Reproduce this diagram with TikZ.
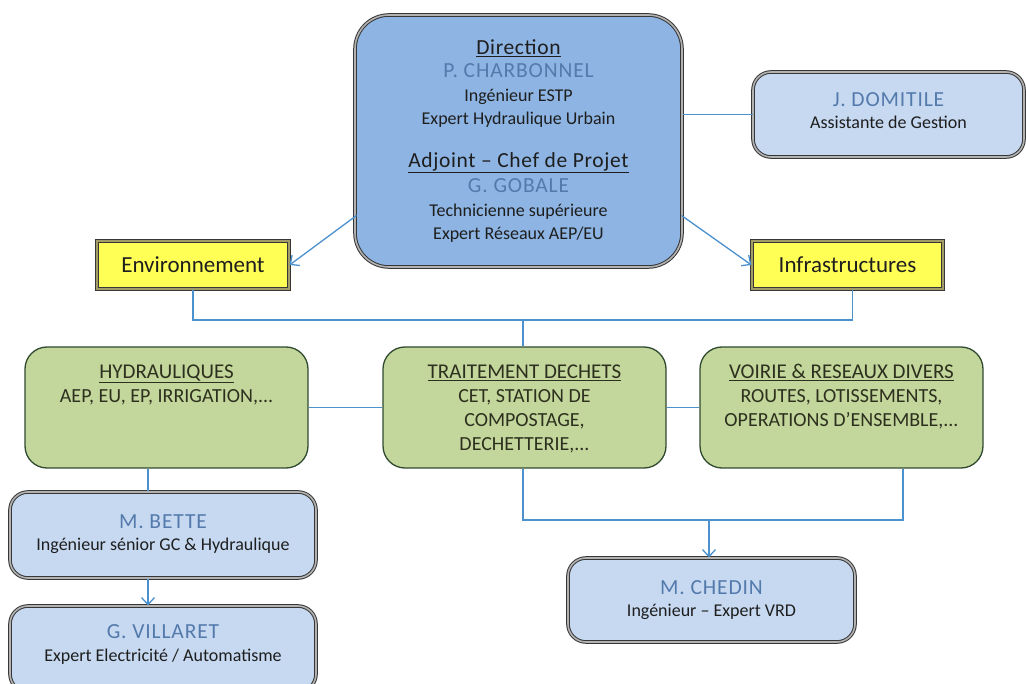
\documentclass[tikz,border=0pt]{standalone}
\usepackage{fontspec}
\setmainfont{Carlito}
\usetikzlibrary{arrows.meta,calc}
\definecolor{dirblue}{RGB}{141,180,226}
\definecolor{lblue}{RGB}{198,217,241}
\definecolor{lgreen}{RGB}{195,214,155}
\definecolor{yel}{RGB}{255,255,85}
\definecolor{conn}{RGB}{75,145,205}
\definecolor{namec}{RGB}{84,122,172}
\definecolor{bord}{RGB}{55,55,55}
\definecolor{txt}{RGB}{30,30,30}
\definecolor{gtxt}{RGB}{45,48,30}
\newcommand\fsBody{\fontsize{18}{23}\selectfont}
\newcommand\fsName{\fontsize{21.5}{23}\selectfont}
\newcommand\fsTitle{\fontsize{21.5}{23}\selectfont}
\newcommand\fsGreen{\fontsize{20}{24}\selectfont}
\newcommand\nm[1]{{\fsName\addfontfeatures{LetterSpace=4}\color{namec}#1}}
\tikzset{
  dirbox/.style={draw=bord, double=gray!60, double distance=1.6pt, line width=1pt,
    fill=dirblue, rounded corners=34pt, minimum width=327pt, minimum height=252pt,
    inner sep=0pt, align=center, text=txt, font=\fsBody},
  pbox/.style={draw=bord, double=gray!60, double distance=1.6pt, line width=1pt,
    fill=lblue, rounded corners=18pt, inner sep=0pt, align=center, text=txt, font=\fsBody},
  ybox/.style={draw=bord, double=gray!55!yellow!80!black, double distance=2.4pt, line width=1.1pt,
    fill=yel, minimum width=192pt, minimum height=48pt, inner sep=0pt, text=txt,
    font=\fontsize{23}{26}\selectfont},
  gbox/.style={draw=bord!90!green, line width=1.3pt, fill=lgreen, rounded corners=22pt,
    minimum width=283pt, minimum height=121pt, inner sep=0pt},
  gtext/.style={anchor=north, align=center, inner sep=0pt, text=gtxt, font=\fsGreen},
  conline/.style={draw=conn, line width=1.3pt},
  conarrow/.style={conline, -{Straight Barb[length=7pt,width=13pt,line width=1.3pt]}}
}
\begin{document}
\begin{tikzpicture}[x=1pt,y=-1pt]
\useasboundingbox[fill=white] (0,0) rectangle (1026,684);

\node[dirbox] (dir) at (518.5,141) {{\fsTitle\addfontfeatures{LetterSpace=3}\underline{Direction}}\\
  \nm{P. CHARBONNEL}\\[1pt]
  Ingénieur ESTP\\
  Expert Hydraulique Urbain\\[20pt]
  {\fsTitle\addfontfeatures{LetterSpace=3}\underline{Adjoint – Chef de Projet}}\\[2pt]
  \nm{G. GOBALE}\\[1pt]
  Technicienne supérieure\\
  Expert Réseaux AEP/EU};

\node[pbox, minimum width=271pt, minimum height=85pt] (dom) at (888.5,114.5)
  {\nm{J. DOMITILE}\\[-1pt] Assistante de Gestion\\[-15pt]\mbox{}};

\node[ybox] (env) at (193,265) {Environnement};
\node[ybox, minimum width=191pt] (inf) at (847.5,265) {Infrastructures};

\node[gbox] (hyd) at (166.5,407.5) {};
\node[gbox] (tra) at (524.5,407.5) {};
\node[gbox] (voi) at (841.5,407.5) {};

\node[gtext] (hydt) at ([yshift=-18pt]hyd.north)
  {{\fontsize{21}{24}\selectfont\underline{HYDRAULIQUES}}\\AEP, EU, EP, IRRIGATION,...};
\node[gtext] (trat) at ([yshift=-18pt]tra.north)
  {{\fontsize{21}{24}\selectfont\underline{TRAITEMENT DECHETS}}\\CET, STATION DE\\COMPOSTAGE,\\DECHETTERIE,...};
\node[gtext] (voit) at ([yshift=-18pt]voi.north)
  {{\fontsize{21}{24}\selectfont\underline{VOIRIE \& RESEAUX DIVERS}}\\ROUTES, LOTISSEMENTS,\\OPERATIONS D’ENSEMBLE,...};

\node[pbox, minimum width=306pt, minimum height=86pt] (bet) at (163,535)
  {\nm{M. BETTE}\\[-1pt] Ingénieur sénior GC \& Hydraulique\\[-19pt]\mbox{}};
\node[pbox, minimum width=306pt, minimum height=86pt] (vil) at (163,649)
  {\nm{G. VILLARET}\\[0pt] Expert Electricité / Automatisme\\[-12pt]\mbox{}};
\node[pbox, minimum width=287pt, minimum height=84pt] (che) at (711.5,600)
  {\nm{M. CHEDIN}\\[-1pt] Ingénieur – Expert VRD};

% connectors
\draw[conline] (dom.west) -- (dom.west -| dir.east);
\draw[conarrow] ($(dir.south west)+(2,-52)$) -- (env.east);
\draw[conarrow] ($(dir.south east)+(-1,-52)$) -- (inf.west);

\coordinate (bus1) at (523,320);
\draw[conline] (env.south) |- (bus1) -| ([xshift=5pt]inf.south);
\draw[conline] (bus1) -- (bus1 |- tra.north);

\draw[conline] (hyd.east) -- (tra.west);
\draw[conline] (tra.east) -- (voi.west);

\draw[conline] ([xshift=-18.5pt]hyd.south) -- ([xshift=-18.5pt]hyd.south |- bet.north);
\draw[conarrow] ([xshift=-15pt]bet.south) -- ([xshift=-15pt]vil.north);

\coordinate (bus2) at (709,520);
\draw[conline] ([xshift=-1.5pt]tra.south) |- (bus2) -| ([xshift=61.5pt]voi.south);
\draw[conarrow] (bus2) -- (bus2 |- che.north);
\end{tikzpicture}
\end{document}
